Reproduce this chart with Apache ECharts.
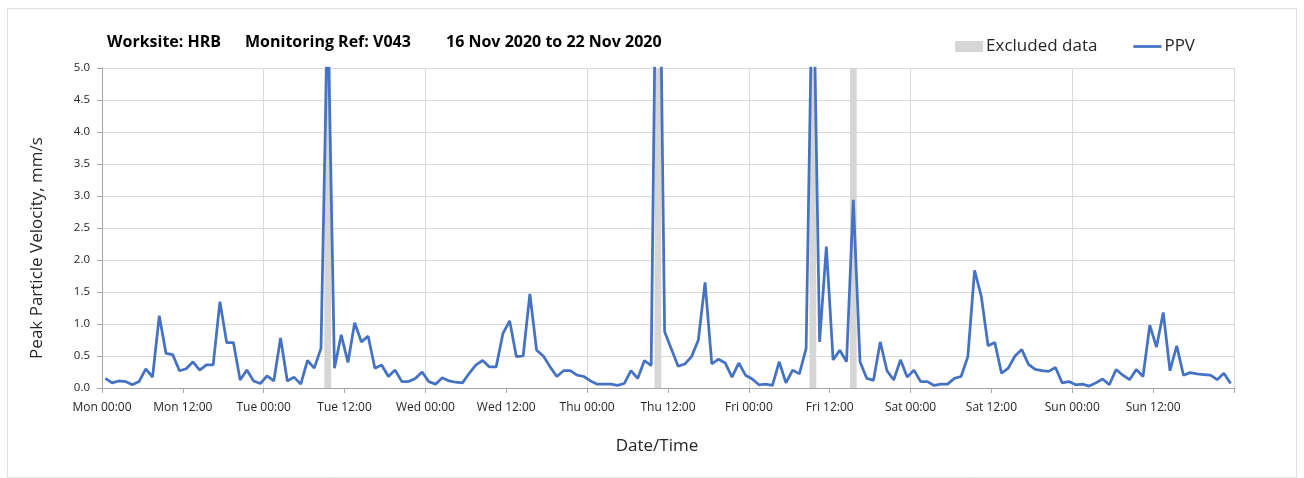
<!DOCTYPE html>
<html>
<head>
<meta charset="utf-8">
<script src="https://cdn.jsdelivr.net/npm/echarts@6/dist/echarts.min.js"></script>
<style>
html,body{margin:0;padding:0;background:#fff;}
#chart{width:1304px;height:478px;}
</style>
</head>
<body>
<div id="chart"></div>
<script>
// Hourly PPV values (mm/s), Mon 00:30 .. Sun 23:30 (one per hour, plotted at mid-hour)
const ppvValues = [
  0.15, 0.08, 0.11, 0.10, 0.05, 0.10, 0.30, 0.17, 1.13, 0.54,
  0.52, 0.27, 0.30, 0.41, 0.28, 0.36, 0.36, 1.35, 0.71, 0.71,
  0.125, 0.28, 0.11, 0.07, 0.19, 0.11, 0.78, 0.11, 0.17, 0.06,
  0.43, 0.31, 0.62, 6.0, 0.31, 0.83, 0.40, 1.02, 0.72, 0.81,
  0.31, 0.36, 0.18, 0.28, 0.10, 0.10, 0.15, 0.25, 0.10, 0.06,
  0.16, 0.11, 0.09, 0.08, 0.23, 0.36, 0.43, 0.33, 0.33, 0.85,
  1.05, 0.49, 0.50, 1.47, 0.59, 0.50, 0.33, 0.18, 0.27, 0.27,
  0.20, 0.18, 0.11, 0.06, 0.06, 0.06, 0.04, 0.07, 0.27, 0.15,
  0.43, 0.35, 9.5, 0.88, 0.61, 0.34, 0.375, 0.49, 0.75, 1.65,
  0.375, 0.45, 0.39, 0.17, 0.39, 0.20, 0.14, 0.05, 0.06, 0.04,
  0.41, 0.08, 0.28, 0.22, 0.62, 7.0, 0.72, 2.21, 0.44, 0.59,
  0.41, 2.94, 0.41, 0.15, 0.12, 0.72, 0.27, 0.125, 0.44, 0.17,
  0.28, 0.10, 0.10, 0.04, 0.06, 0.06, 0.15, 0.18, 0.49, 1.84,
  1.43, 0.66, 0.71, 0.23, 0.31, 0.50, 0.60, 0.37, 0.29, 0.27,
  0.26, 0.32, 0.08, 0.10, 0.05, 0.06, 0.03, 0.08, 0.14, 0.05,
  0.29, 0.20, 0.13, 0.29, 0.18, 0.98, 0.64, 1.18, 0.27, 0.66,
  0.20, 0.24, 0.22, 0.21, 0.20, 0.13, 0.23, 0.07
];
// Excluded hours (start hour from Mon 00:00, each one hour long)
const excludedStartHours = [33, 82, 105, 111];
// X tick labels every 12 hours
const xTickLabels = [
  'Mon 00:00','Mon 12:00','Tue 00:00','Tue 12:00','Wed 00:00','Wed 12:00',
  'Thu 00:00','Thu 12:00','Fri 00:00','Fri 12:00','Sat 00:00','Sat 12:00',
  'Sun 00:00','Sun 12:00',''
];
const yTickLabels = ['0.0','0.5','1.0','1.5','2.0','2.5','3.0','3.5','4.0','4.5','5.0'];

const FONT = '"Open Sans", "Noto Sans", sans-serif';
const TEXT_COLOR = '#262626';
const ppvData = ppvValues.map((v, i) => [i + 0.5, v]);
const markAreaData = excludedStartHours.map(h => [{xAxis: h}, {xAxis: h + 1}]);

const chart = echarts.init(document.getElementById('chart'), null, {renderer: 'canvas'});
const titleStyle = {fontFamily: FONT, fontSize: 16, fontWeight: 'bold', color: '#000'};
chart.setOption({
  animation: false,
  backgroundColor: '#fff',
  title: [
    {text: 'Worksite: HRB', left: 102, top: 29, textStyle: titleStyle},
    {text: 'Monitoring Ref: V043', left: 240, top: 29, textStyle: titleStyle},
    {text: '16 Nov 2020 to 22 Nov 2020', left: 441, top: 29, textStyle: titleStyle}
  ],
  legend: {
    right: 104,
    top: 33,
    itemGap: 36,
    itemWidth: 28,
    itemHeight: 11,
    symbolKeepAspect: true,
    textStyle: {fontFamily: FONT, fontSize: 17, color: TEXT_COLOR, padding: [0,0,0,-2]},
    data: [
      {name: 'Excluded data', icon: 'rect', itemStyle: {color: '#d6d6d6'}},
      {name: 'PPV', icon: 'path://M0,0L28,0L28,2.75L0,2.75Z', itemStyle: {color: '#4472c4'}}
    ]
  },
  grid: {left: 102, right: 70, top: 68, bottom: 90, containLabel: false},
  xAxis: [
    {
      type: 'value', min: 0, max: 168, interval: 12,
      axisLine: {show: true, lineStyle: {color: '#a6a6a6', width: 1}},
      axisTick: {show: true, length: 5, lineStyle: {color: '#a6a6a6'}},
      splitLine: {show: false},
      axisLabel: {
        fontFamily: FONT, fontSize: 12, color: TEXT_COLOR, margin: 14,
        formatter: v => xTickLabels[Math.round(v / 12)] || ''
      }
    },
    {
      type: 'value', min: 0, max: 168, interval: 24, show: true,
      position: 'bottom',
      axisLine: {show: false}, axisTick: {show: false}, axisLabel: {show: false},
      splitLine: {show: true, lineStyle: {color: '#d9d9d9', width: 1}}
    }
  ],
  yAxis: {
    type: 'value', min: 0, max: 5, interval: 0.5,
    axisLine: {show: true, lineStyle: {color: '#a6a6a6', width: 1}},
    axisTick: {show: true, length: 5, lineStyle: {color: '#a6a6a6'}},
    splitLine: {show: true, lineStyle: {color: '#d9d9d9', width: 1}},
    axisLabel: {
      fontFamily: FONT, fontSize: 11.5, color: TEXT_COLOR, margin: 12,
      formatter: v => yTickLabels[Math.round(v * 2)]
    }
  },
  series: [
    {
      name: 'Excluded data', type: 'bar', data: [],
      itemStyle: {color: '#d6d6d6'},
      markArea: {silent: true, itemStyle: {color: '#d6d6d6'}, data: markAreaData}
    },
    {
      name: 'PPV', type: 'line', data: ppvData,
      symbol: 'none', showSymbol: false,
      clip: true,
      lineStyle: {color: '#4472c4', width: 2.75},
      itemStyle: {color: '#4472c4'},
      z: 3
    }
  ],
  graphic: [
    {type: 'rect', shape: {x: 7.5, y: 8.5, width: 1289, height: 469}, style: {fill: 'none', stroke: '#e0e0e0', lineWidth: 1}, silent: true, z: -1},
    {type: 'text', x: 37, y: 248, rotation: Math.PI / 2,
     style: {text: 'Peak Particle Velocity, mm/s', align: 'center', verticalAlign: 'middle',
             font: '17px ' + FONT, fill: TEXT_COLOR}},
    {type: 'text', x: 657, y: 446,
     style: {text: 'Date/Time', align: 'center', verticalAlign: 'middle',
             font: '17px ' + FONT, fill: TEXT_COLOR}}
  ]
});
</script>
</body>
</html>
